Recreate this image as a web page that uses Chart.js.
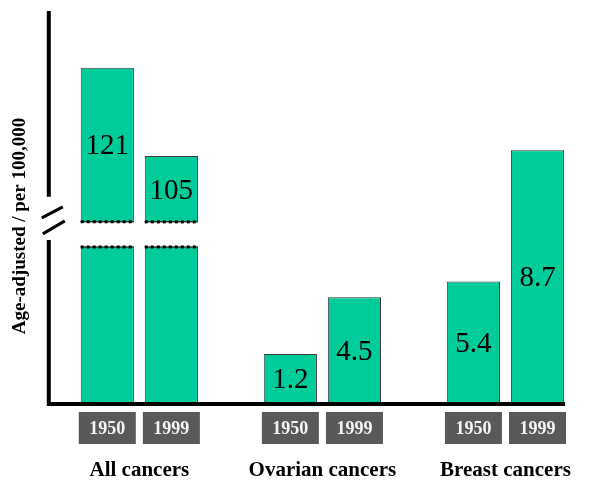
<!DOCTYPE html>
<html>
<head>
<meta charset="utf-8">
<script src="https://cdn.jsdelivr.net/npm/chart.js@4.4.0/dist/chart.umd.min.js"></script>
<style>
  html, body { margin: 0; padding: 0; background: #fff; }
  #wrap { width: 597px; height: 481px; }
</style>
</head>
<body>
<div id="wrap"><canvas id="chart"></canvas></div>
<script>
var categories = ['All cancers', 'Ovarian cancers', 'Breast cancers'];
var years = ['1950', '1999'];
// rates printed on the bars
var rates1950 = [121, 1.2, 5.4];
var rates1999 = [105, 4.5, 8.7];
// bar heights as drawn in the picture (schematic, not to scale)
var height1950 = [85.5, 12.5, 31];
var height1999 = [63, 27, 64.5];
// axis break band, in the same units as the heights; only "All cancers" is cut
var breakLow = 39.8, breakHigh = 46.2;
var brokenCategories = ['All cancers'];

var serif = "'Liberation Serif', 'Times New Roman', serif";

var drawExtras = {
    id: 'drawExtras',
    afterDatasetsDraw: function (chart) {
        var ctx = chart.ctx, area = chart.chartArea, y = chart.scales.y;
        var yTop = y.getPixelForValue(breakHigh), yBot = y.getPixelForValue(breakLow);
        var rates = [rates1950, rates1999];
        var lastRight = area.left;
        ctx.save();
        chart.data.datasets.forEach(function (ds, di) {
            chart.getDatasetMeta(di).data.forEach(function (bar, i) {
                var left = bar.x - bar.width / 2, right = bar.x + bar.width / 2;
                lastRight = Math.max(lastRight, right);
                var segBottom = bar.base;
                if (brokenCategories.indexOf(categories[i]) >= 0 && bar.y < yTop) {
                    // cut the tall bar at the break
                    ctx.fillStyle = '#fff';
                    ctx.fillRect(left - 1, yTop, bar.width + 2, yBot - yTop);
                    [yTop, yBot].forEach(function (py) {
                        ctx.setLineDash([]);
                        ctx.strokeStyle = '#000';
                        ctx.lineWidth = 1;
                        ctx.beginPath(); ctx.moveTo(left, py); ctx.lineTo(right, py); ctx.stroke();
                        ctx.setLineDash([3, 3]);
                        ctx.lineWidth = 3;
                        ctx.beginPath(); ctx.moveTo(left, py); ctx.lineTo(right, py); ctx.stroke();
                    });
                    ctx.setLineDash([]);
                    segBottom = yTop;
                }
                // value label
                ctx.fillStyle = '#000';
                ctx.font = '29px ' + serif;
                ctx.textAlign = 'center';
                ctx.textBaseline = 'middle';
                ctx.fillText(String(rates[di][i]), bar.x, (bar.y + segBottom) / 2 + 2);
                // year box under the bar
                var bx = bar.x - 28.5, by = area.bottom + 9;
                ctx.fillStyle = '#595959';
                ctx.fillRect(bx, by, 57, 32);
                ctx.fillStyle = '#f4f4f4';
                ctx.font = 'bold 18px ' + serif;
                ctx.fillText(ds.label, bar.x, by + 17);
            });
        });

        // axes with the break marks
        var axisX = area.left + 1;
        var gapTop = yTop - 25, gapBot = yBot - 7;
        ctx.strokeStyle = '#000';
        ctx.lineWidth = 4;
        ctx.beginPath();
        ctx.moveTo(axisX, area.top); ctx.lineTo(axisX, gapTop);
        ctx.moveTo(axisX, gapBot); ctx.lineTo(axisX, area.bottom + 3);
        ctx.moveTo(axisX - 2, area.bottom + 1); ctx.lineTo(lastRight + 1, area.bottom + 1);
        ctx.stroke();
        ctx.lineWidth = 3;
        ctx.beginPath();
        ctx.moveTo(axisX - 7, gapTop + 21); ctx.lineTo(axisX + 14, gapTop + 10);
        ctx.moveTo(axisX - 6, gapTop + 37); ctx.lineTo(axisX + 16, gapTop + 24);
        ctx.stroke();
        ctx.restore();
    }
};

var ctx = document.getElementById('chart');
var chart = new Chart(ctx, {
    type: 'bar',
    data: {
        labels: categories,
        datasets: [{
            label: years[0],
            data: height1950,
            backgroundColor: '#00CC99',
            borderColor: '#3a3a3a',
            borderWidth: 1
        }, {
            label: years[1],
            data: height1999,
            backgroundColor: '#00CC99',
            borderColor: '#3a3a3a',
            borderWidth: 1
        }]
    },
    options: {
        responsive: true,
        maintainAspectRatio: false,
        animation: false,
        categoryPercentage: 0.70,
        barPercentage: 0.83,
        // the tall tick line height pushes the names down; pull the bottom back
        layout: { padding: { top: 11, left: 0, right: 0, bottom: -58 } },
        plugins: {
            legend: { display: false },
            tooltip: { enabled: false }
        },
        scales: {
            x: {
                grid: { display: false, drawTicks: false },
                border: { display: false },
                ticks: {
                    color: '#000',
                    padding: 13,
                    font: { family: serif, size: 21, weight: 'bold', lineHeight: 5.24 }
                }
            },
            y: {
                min: 0,
                max: 100,
                grid: { display: false, drawTicks: false },
                border: { display: false },
                ticks: { display: false },
                title: {
                    display: true,
                    text: 'Age-adjusted / per 100,000        ',
                    color: '#000',
                    padding: { top: 9, bottom: 16 },
                    font: { family: serif, size: 19, weight: 'bold' }
                }
            }
        }
    },
    plugins: [drawExtras]
});
</script>
</body>
</html>
